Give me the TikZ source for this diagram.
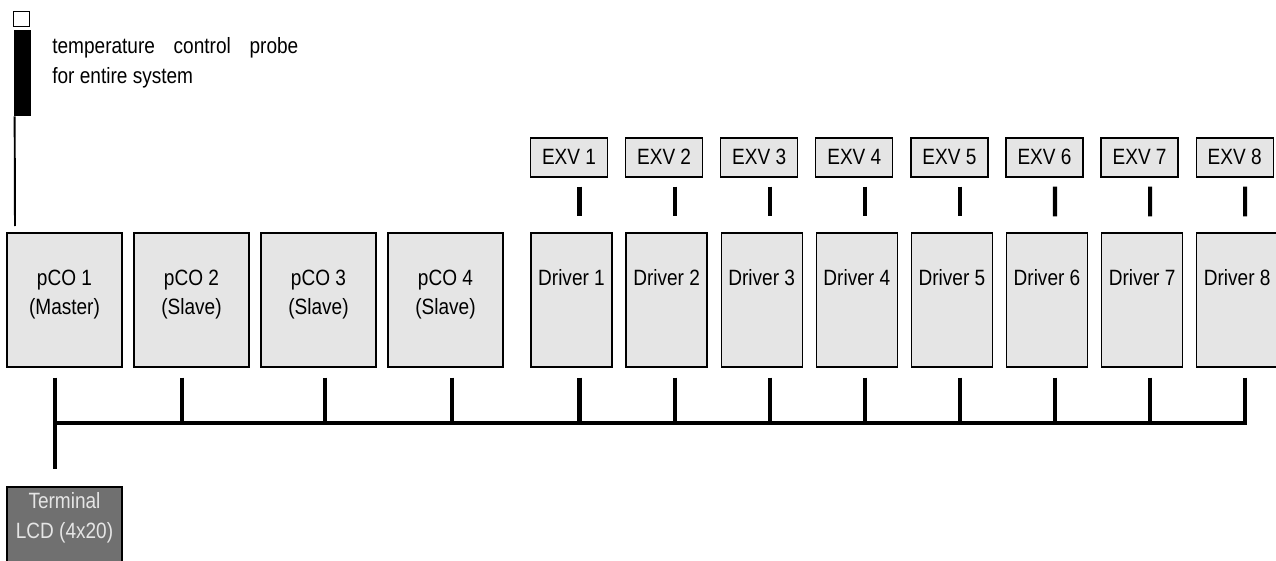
\documentclass[tikz,border=0pt]{standalone}
\usepackage{fontspec}
\setmainfont{Liberation Sans}[FakeStretch=0.86]
\definecolor{boxgray}{RGB}{229,229,229}
\definecolor{termgray}{RGB}{112,112,112}

\begin{document}
\begin{tikzpicture}[
  x=0.02cm, y=-0.02cm,
  every node/.style={font=\fontsize{12.6}{17}\selectfont, inner sep=0pt},
  unit/.style={draw, line width=0.7pt, fill=boxgray, minimum width=2.3cm,
    minimum height=2.68cm, align=center, text height=0.9cm, text depth=0.3cm},
  drv/.style={unit, minimum width=1.62cm, text height=0.3cm, text depth=0.88cm},
  exv/.style={draw, line width=0.7pt, fill=boxgray, minimum width=1.54cm,
    minimum height=0.78cm, text height=0.3cm, text depth=0.02cm},
  term/.style={unit, fill=termgray, text=boxgray, minimum height=1.56cm, text depth=0.42cm},
  link/.style={line width=2.3pt}
]
  \useasboundingbox (0,0) rectangle (1276,561);

  % probe
  \node[draw, line width=0.7pt, fill=white, minimum width=0.32cm, minimum height=0.3cm] (probecap) at (21.5,19) {};
  \node[fill=black, minimum width=0.34cm, minimum height=1.72cm] (probe) at (22.5,73) {};
  \node[anchor=north west, align=left, text height=0.9cm] (probetxt) at (52,38)
    {\makebox[4.92cm][s]{temperature control probe}\\for entire system};
  \coordinate (probeend) at (15,226);
  \draw[line width=1.1pt] ([shift={(1,0)}]probe.south west) -- (probeend);

  % controllers
  \node[unit] (pco1) at (64.5,300) {pCO 1\\(Master)};
  \node[unit] (pco2) at (191.5,300) {pCO 2\\(Slave)};
  \node[unit] (pco3) at (318.5,300) {pCO 3\\(Slave)};
  \node[unit] (pco4) at (445.5,300) {pCO 4\\(Slave)};
  \node[term] (term) at (64.5,526) {Terminal\\LCD (4x20)};

  % drivers
  \node[drv] (drv1) at (571.5,300) {Driver 1};
  \node[drv] (drv2) at (666.6,300) {Driver 2};
  \node[drv] (drv3) at (761.7,300) {Driver 3};
  \node[drv] (drv4) at (856.8,300) {Driver 4};
  \node[drv] (drv5) at (951.9,300) {Driver 5};
  \node[drv] (drv6) at (1047,300) {Driver 6};
  \node[drv] (drv7) at (1142.1,300) {Driver 7};
  \node[drv] (drv8) at (1237.2,300) {Driver 8};

  % valves
  \node[exv] (exv1) at (569,157.5) {EXV 1};
  \node[exv] (exv2) at (664.1,157.5) {EXV 2};
  \node[exv] (exv3) at (759.2,157.5) {EXV 3};
  \node[exv] (exv4) at (854.3,157.5) {EXV 4};
  \node[exv] (exv5) at (949.4,157.5) {EXV 5};
  \node[exv] (exv6) at (1044.5,157.5) {EXV 6};
  \node[exv] (exv7) at (1139.6,157.5) {EXV 7};
  \node[exv] (exv8) at (1234.7,157.5) {EXV 8};

  \draw[link] ([shift={(10.5,9)}]exv1.south) -- ([shift={(8,-16)}]drv1.north);
  \draw[link] ([shift={(10.5,9)}]exv2.south) -- ([shift={(8,-16)}]drv2.north);
  \draw[link] ([shift={(10.5,9)}]exv3.south) -- ([shift={(8,-16)}]drv3.north);
  \draw[link] ([shift={(10.5,9)}]exv4.south) -- ([shift={(8,-16)}]drv4.north);
  \draw[link] ([shift={(10.5,9)}]exv5.south) -- ([shift={(8,-16)}]drv5.north);
  \draw[link] ([shift={(10.5,9)}]exv6.south) -- ([shift={(8,-16)}]drv6.north);
  \draw[link] ([shift={(10.5,9)}]exv7.south) -- ([shift={(8,-16)}]drv7.north);
  \draw[link] ([shift={(10.5,9)}]exv8.south) -- ([shift={(8,-16)}]drv8.north);

  % bus
  \coordinate (busL) at (55,423);
  \coordinate (busR) at (1245.2,423);
  \draw[link, line cap=rect] (busL) -- (busR);
  \draw[link] ([shift={(-9.5,10)}]pco1.south) -- ([shift={(-9.5,-17)}]term.north);
  \draw[link] ([shift={(-9.5,10)}]pco2.south) -- ([shift={(-9.5,0)}]pco2.south |- busL);
  \draw[link] ([shift={(6.5,10)}]pco3.south) -- ([shift={(6.5,0)}]pco3.south |- busL);
  \draw[link] ([shift={(6.5,10)}]pco4.south) -- ([shift={(6.5,0)}]pco4.south |- busL);
  \draw[link] ([shift={(8,10)}]drv1.south) -- ([shift={(8,0)}]drv1.south |- busL);
  \draw[link] ([shift={(8,10)}]drv2.south) -- ([shift={(8,0)}]drv2.south |- busL);
  \draw[link] ([shift={(8,10)}]drv3.south) -- ([shift={(8,0)}]drv3.south |- busL);
  \draw[link] ([shift={(8,10)}]drv4.south) -- ([shift={(8,0)}]drv4.south |- busL);
  \draw[link] ([shift={(8,10)}]drv5.south) -- ([shift={(8,0)}]drv5.south |- busL);
  \draw[link] ([shift={(8,10)}]drv6.south) -- ([shift={(8,0)}]drv6.south |- busL);
  \draw[link] ([shift={(8,10)}]drv7.south) -- ([shift={(8,0)}]drv7.south |- busL);
  \draw[link] ([shift={(8,10)}]drv8.south) -- ([shift={(8,0)}]drv8.south |- busL);
\end{tikzpicture}
\end{document}
